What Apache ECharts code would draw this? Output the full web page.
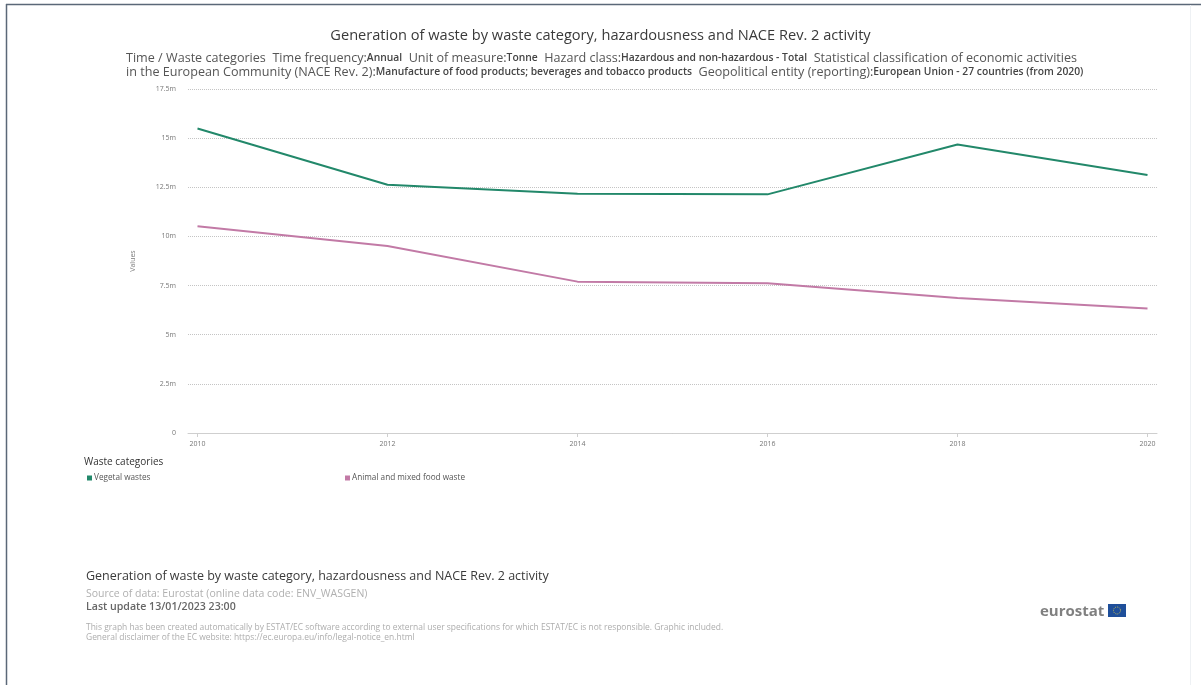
<!DOCTYPE html>
<html>
<head>
<meta charset="utf-8">
<script src="https://cdn.jsdelivr.net/npm/echarts@6/dist/echarts.min.js"></script>
<style>
html,body{margin:0;padding:0;background:#fff;}
#chart{width:1201px;height:685px;}
</style>
</head>
<body>
<div id="chart"></div>
<script>
const years = [2010, 2012, 2014, 2016, 2018, 2020];
const yTicks = [0, 2500000, 5000000, 7500000, 10000000, 12500000, 15000000, 17500000];
const vegetalWastes = [15490000, 12630000, 12170000, 12140000, 14680000, 13120000];
const animalFoodWaste = [10520000, 9510000, 7700000, 7620000, 6870000, 6330000];
const seriesNames = ['Vegetal wastes', 'Animal and mixed food waste'];

const FONT = '"Open Sans", "Noto Sans", sans-serif';
const GREEN = '#22886a';
const PINK = '#c27aa6';

const chart = echarts.init(document.getElementById('chart'), null, {renderer: 'canvas'});

const option = {
  backgroundColor: '#ffffff',
  animation: false,
  textStyle: {fontFamily: FONT},
  title: [
    {
      text: 'Generation of waste by waste category, hazardousness and NACE Rev. 2 activity',
      left: 'center', top: 28, padding: 0,
      textStyle: {fontFamily: FONT, fontSize: 14.6, fontWeight: 'normal', color: '#3a3a3a'}
    },
    {
      text: '{n|Time / Waste categories  Time frequency:}{b|Annual}{n|  Unit of measure:}{b|Tonne}{n|  Hazard class:}{b|Hazardous and non-hazardous - Total}{n|  Statistical classification of economic activities}\n{n|in the European Community (NACE Rev. 2):}{b|Manufacture of food products; beverages and tobacco products}{n|  Geopolitical entity (reporting):}{b|European Union - 27 countries (from 2020)}',
      left: 126, top: 51, padding: 0,
      textStyle: {
        fontFamily: FONT, fontSize: 12.6, fontWeight: 'normal', color: '#555', lineHeight: 14,
        rich: {
          n: {fontFamily: FONT, fontSize: 12.6, fontWeight: 'normal', color: '#555', lineHeight: 14},
          b: {fontFamily: FONT, fontSize: 10.3, fontWeight: 600, color: '#444', lineHeight: 14}
        }
      }
    },
    {
      text: 'Waste categories', left: 84, top: 457, padding: 0,
      textStyle: {fontFamily: FONT, fontSize: 10, fontWeight: 'normal', color: '#333'}
    },
    {
      text: 'Generation of waste by waste category, hazardousness and NACE Rev. 2 activity',
      left: 86, top: 570, padding: 0,
      textStyle: {fontFamily: FONT, fontSize: 12.5, fontWeight: 'normal', color: '#3a3a3a'}
    },
    {
      text: 'Source of data: Eurostat (online data code: ENV_WASGEN)',
      left: 86, top: 589, padding: 0,
      textStyle: {fontFamily: FONT, fontSize: 10.5, fontWeight: 'normal', color: '#b0b0b0'}
    },
    {
      text: 'Last update 13/01/2023 23:00',
      left: 86, top: 601, padding: 0,
      textStyle: {fontFamily: FONT, fontSize: 10.6, fontWeight: 600, color: '#666'}
    },
    {
      text: 'This graph has been created automatically by ESTAT/EC software according to external user specifications for which ESTAT/EC is not responsible. Graphic included.\nGeneral disclaimer of the EC website: https://ec.europa.eu/info/legal-notice_en.html',
      left: 86, top: 623, padding: 0,
      textStyle: {fontFamily: FONT, fontSize: 8.45, fontWeight: 'normal', color: '#adadad', lineHeight: 10}
    },
    {
      text: 'eurostat', left: 1040, top: 604, padding: 0,
      textStyle: {fontFamily: FONT, fontSize: 15, fontWeight: 'bold', color: '#808080'}
    }
  ],
  legend: [
    {
      data: [seriesNames[0]], left: 82, top: 469, icon: 'rect', itemWidth: 5, itemHeight: 5, itemGap: 4,
      textStyle: {fontFamily: FONT, fontSize: 8.2, color: '#555', padding: [0,0,0,-3]}
    },
    {
      data: [seriesNames[1]], left: 340, top: 469, icon: 'rect', itemWidth: 5, itemHeight: 5, itemGap: 4,
      textStyle: {fontFamily: FONT, fontSize: 8.2, color: '#555', padding: [0,0,0,-3]}
    }
  ],
  grid: {left: 188, right: 44, top: 89, bottom: 252, containLabel: false},
  xAxis: {
    type: 'value', min: 2009.9, max: 2020.1,
    axisLine: {show: true, lineStyle: {color: '#cfcfcf', width: 1}},
    axisTick: {show: true, customValues: years, length: 4, lineStyle: {color: '#cfcfcf'}},
    axisLabel: {customValues: years, fontSize: 7, color: '#777', margin: 7, formatter: v => String(v)},
    splitLine: {show: false}
  },
  yAxis: {
    type: 'value', min: 0, max: 17500000, interval: 2500000,
    name: 'Values', nameLocation: 'middle', nameGap: 52, nameRotate: 90,
    nameTextStyle: {fontSize: 7, color: '#777'},
    axisLine: {show: false}, axisTick: {show: false},
    axisLabel: {fontSize: 7, color: '#777', margin: 12,
      formatter: v => v === 0 ? '0' : (v / 1e6) + 'm'},
    splitLine: {show: true, lineStyle: {color: '#c4c4c4', type: [1, 1], width: 1}}
  },
  series: [
    {
      name: seriesNames[0], type: 'line', color: GREEN, showSymbol: false, symbol: 'none',
      lineStyle: {width: 2, color: GREEN},
      data: years.map((y, i) => [y, vegetalWastes[i]])
    },
    {
      name: seriesNames[1], type: 'line', color: PINK, showSymbol: false, symbol: 'none',
      lineStyle: {width: 2, color: PINK},
      data: years.map((y, i) => [y, animalFoodWaste[i]])
    }
  ],
  graphic: [
    {type: 'line', shape: {x1: 6.5, y1: 4, x2: 6.5, y2: 685}, style: {stroke: '#5b6878', lineWidth: 1.5}, silent: true},
    {type: 'line', shape: {x1: 6, y1: 4.5, x2: 1201, y2: 4.5}, style: {stroke: '#5b6878', lineWidth: 1.5}, silent: true},
    {type: 'line', shape: {x1: 1190.5, y1: 5, x2: 1190.5, y2: 685}, style: {stroke: '#eef1f4', lineWidth: 1}, silent: true},
    {type: 'rect', shape: {x: 1108, y: 604, width: 18, height: 13}, style: {fill: '#1f4f9a'}, silent: true},
    {type: 'circle', shape: {cx: 1117, cy: 610.5, r: 3.5}, style: {fill: 'none', stroke: '#e8d44a', lineWidth: 0.8, lineDash: [1, 1]}, silent: true}
  ]
};
chart.setOption(option);
</script>
</body>
</html>
